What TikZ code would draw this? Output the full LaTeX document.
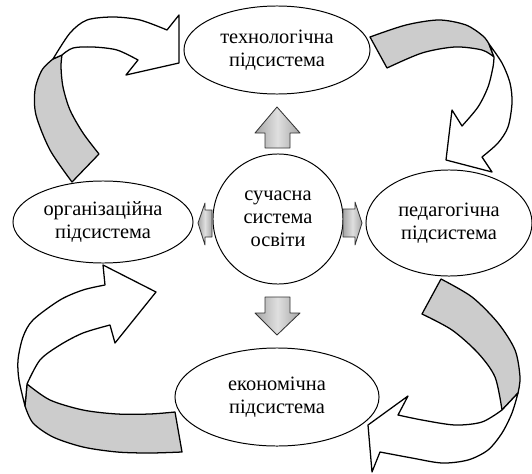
\documentclass[tikz,border=0pt]{standalone}
\usepackage{fontspec}
\setmainfont{Liberation Serif}
\usepackage{tikz}
\usetikzlibrary{shapes.geometric}

\begin{document}
\begin{tikzpicture}[x=0.025cm, y=-0.025cm,
  system/.style={ellipse, draw, line width=0.7pt, align=center, inner sep=0pt,
    font=\fontsize{14.5}{16.5}\selectfont},
  ribbon/.style={draw, line width=0.9pt, line join=round, fill=white},
  ribbonback/.style={ribbon, fill=gray!40},
  smallarrow/.style={draw=black!80, line width=0.6pt, line join=round,
    left color=gray!70, right color=gray!70, middle color=gray!25}]
\useasboundingbox (0,0) rectangle (532,473);
\node[system, minimum width=4.65cm, minimum height=2.2cm] (tech) at (277,50) {технологічна\\підсистема};
\node[system, minimum width=4.5cm, minimum height=2.05cm] (org) at (103,222) {організаційна\\підсистема};
\node[system, minimum width=4.15cm, minimum height=2.65cm] (ped) at (449,223) {педагогічна\\підсистема};
\node[system, minimum width=5.1cm, minimum height=2.45cm] (econ) at (277,397) {економічна\\підсистема};
\node[system, circle, minimum size=3.25cm] (core) at (278,219) {сучасна\\система\\освіти};
%up
\draw[smallarrow] (277,107) -- (300,133) -- (290,133) -- (290,148) -- (265,148) -- (265,133) -- (255,133) -- cycle;
%down
\draw[smallarrow] (265,297) -- (290,297) -- (290,313) -- (300,313) -- (277,335) -- (255,313) -- (265,313) -- cycle;
%left
\draw[smallarrow] (198,223) -- (205,203) -- (205,210) -- (212,210) -- (212,237) -- (205,237) -- (205,245) -- cycle;
%right
\draw[smallarrow] (343,209) -- (355,209) -- (355,202) -- (362,223) -- (355,245) -- (355,237) -- (343,237) -- cycle;
%org to tech
\draw[ribbonback] plot[smooth] coordinates {(72,182) (50,150) (36,115) (35,90) (42,70) (53,59)}
  -- (62,55) -- plot[smooth] coordinates {(62,55) (61,67) (63,87) (70,110) (83,133) (99,154)} -- cycle;
\draw[ribbon] plot[smooth] coordinates {(53,59) (70,33) (87,20) (113,17) (140,20) (167,30)}
  -- (179,15) -- (179,63) -- (126,75) -- (138,60)
  -- plot[smooth] coordinates {(138,60) (117,50) (93,47) (73,48) (62,55)} -- cycle;
%tech to ped
\draw[ribbonback] plot[smooth] coordinates {(370,37) (406,25) (439,20) (466,25) (483,36) (489,44)}
  -- (494,57) -- plot[smooth] coordinates {(494,57) (482,50) (455,47) (422,53) (387,68)} -- cycle;
\draw[ribbon] plot[smooth] coordinates {(489,44) (502,63) (510,83) (512,103) (508,127) (498,143) (482,157)}
  -- (492,172) -- (446,160) -- (452,110) -- (462,126)
  -- plot[smooth] coordinates {(462,126) (478,107) (488,87) (493,67) (494,57)} -- cycle;
%ped to econ
\draw[ribbonback] plot[smooth] coordinates {(441,279) (472,297) (498,323) (515,350) (520,377) (518,393)}
  -- (502,410) -- plot[smooth] coordinates {(502,410) (495,377) (478,353) (452,330) (422,314)} -- cycle;
\draw[ribbon] plot[smooth] coordinates {(518,393) (512,413) (502,433) (488,450) (468,460) (442,463) (412,458) (380,452)}
  -- (372,472) -- (368,425) -- (408,396) -- (398,415)
  -- plot[smooth] coordinates {(398,415) (422,420) (455,425) (482,422) (502,410)} -- cycle;
%econ to org
\draw[ribbonback] (27,384) -- plot[smooth] coordinates {(25,406) (33,423) (53,437) (83,447) (117,452) (150,453) (182,452)}
  -- (175,412) -- plot[smooth] coordinates {(175,412) (150,414) (117,414) (83,410) (50,400) (27,384)} -- cycle;
\draw[ribbon] plot[smooth] coordinates {(25,406) (19,380) (18,360) (23,337) (33,320) (60,300) (83,290) (105,285)}
  -- (103,265) -- (156,292) -- (115,343) -- (110,325)
  -- plot[smooth] coordinates {(110,325) (83,333) (60,345) (40,360) (27,384)} -- cycle;
\end{tikzpicture}
\end{document}
